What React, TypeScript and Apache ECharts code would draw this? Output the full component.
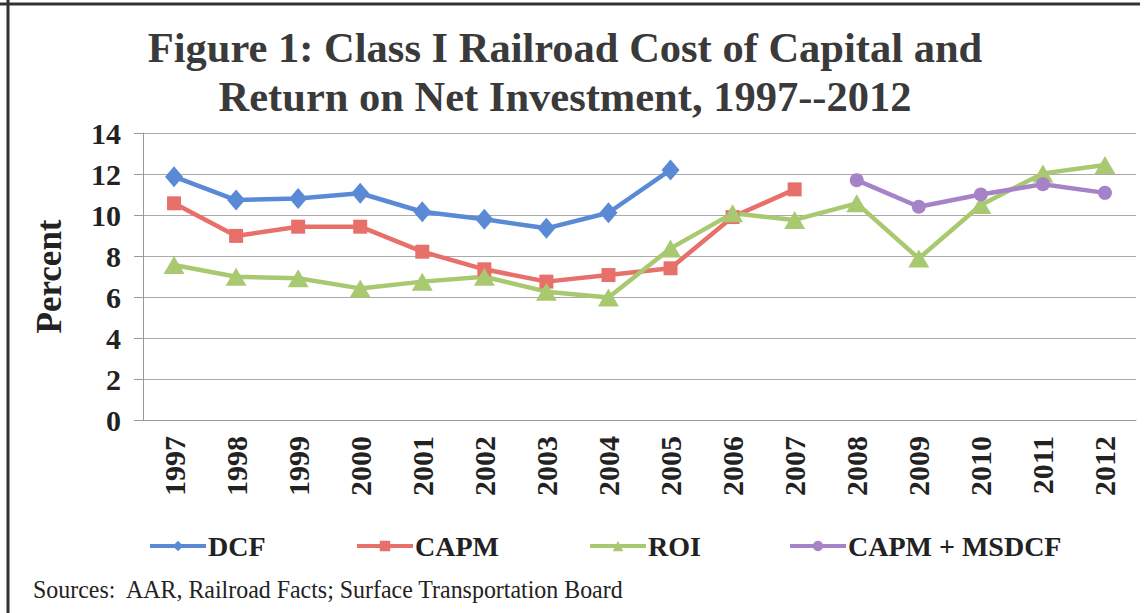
import React, { useEffect, useRef } from "react";
import * as echarts from "echarts";

const years = ["1997","1998","1999","2000","2001","2002","2003","2004","2005","2006","2007","2008","2009","2010","2011","2012"];
const dcf = [11.87, 10.73, 10.81, 11.06, 10.16, 9.79, 9.35, 10.11, 12.2, null, null, null, null, null, null, null];
const capm = [10.57, 8.98, 9.43, 9.43, 8.21, 7.35, 6.75, 7.07, 7.4, 9.9, 11.25, null, null, null, null, null];
const roi = [7.56, 6.99, 6.91, 6.42, 6.75, 6.99, 6.26, 5.98, 8.37, 10.08, 9.76, 10.57, 7.88, 10.49, 12.03, 12.44];
const msdcf = [null, null, null, null, null, null, null, null, null, null, null, 11.7, 10.4, 11.0, 11.5, 11.08];
const yTicks = { min: 0, max: 14, interval: 2 };
const titleLines = ["Figure 1: Class I Railroad Cost of Capital and", "Return on Net Investment, 1997--2012"];
const sourceText = "Sources:  AAR, Railroad Facts; Surface Transportation Board";

const serif = "'Liberation Serif', 'Times New Roman', serif";
const colors = { dcf: "#5a8ad6", capm: "#e8706b", roi: "#a9c971", msdcf: "#a683c9" };

export default function App() {
  const ref = useRef<HTMLDivElement>(null);
  useEffect(() => {
    if (!ref.current) return;
    const chart = echarts.init(ref.current, null, { renderer: "svg" });
    const legendBase = {
      top: 527,
      itemWidth: 56,
      itemHeight: 13,
      itemGap: 0,
      lineStyle: { width: 4 },
      textStyle: { fontFamily: serif, fontSize: 28, fontWeight: "bold", color: "#222", padding: [0, 0, 0, -3] },
    };
    const mkSeries = (name: string, data: any[], color: string, symbol: string, size: any) => ({
      name,
      type: "line",
      data,
      symbol,
      symbolSize: size,
      showAllSymbol: true,
      connectNulls: false,
      lineStyle: { color, width: 4.5 },
      itemStyle: { color },
      emphasis: { disabled: true },
    });
    chart.setOption({
      animation: false,
      backgroundColor: "#fff",
      title: {
        text: titleLines.join("\n"),
        left: 565,
        textAlign: "center",
        top: 23,
        padding: 0,
        textStyle: { fontFamily: serif, fontSize: 42.5, fontWeight: "bold", color: "#3a3a3a", lineHeight: 49 },
      },
      grid: { left: 143, right: 11, top: 133, bottom: 193 },
      legend: [
        { ...legendBase, left: 143, data: ["DCF"] },
        { ...legendBase, left: 350, data: ["CAPM"] },
        { ...legendBase, left: 583, data: ["ROI"] },
        { ...legendBase, left: 783, data: ["CAPM + MSDCF"] },
      ],
      xAxis: {
        type: "category",
        data: years,
        boundaryGap: true,
        axisLine: { lineStyle: { color: "#999", width: 1 } },
        axisTick: { show: false },
        axisLabel: { rotate: 90, margin: 16, fontFamily: serif, fontSize: 30, fontWeight: "bold", color: "#222" },
      },
      yAxis: {
        type: "value",
        min: yTicks.min,
        max: yTicks.max,
        interval: yTicks.interval,
        name: "Percent",
        nameLocation: "middle",
        nameGap: 76,
        nameTextStyle: { fontFamily: serif, fontSize: 35, fontWeight: "bold", color: "#222" },
        axisLine: { show: true, lineStyle: { color: "#999", width: 1 } },
        axisTick: { show: true, length: 9, lineStyle: { color: "#999" } },
        axisLabel: { margin: 22, fontFamily: serif, fontSize: 30, fontWeight: "bold", color: "#222" },
        splitLine: { lineStyle: { color: "#aaa", width: 1 } },
      },
      series: [
        mkSeries("DCF", dcf, colors.dcf, "diamond", [18, 21]),
        mkSeries("CAPM", capm, colors.capm, "rect", [14, 14]),
        mkSeries("ROI", roi, colors.roi, "triangle", [21, 18]),
        mkSeries("CAPM + MSDCF", msdcf, colors.msdcf, "circle", 14),
      ],
      graphic: [
        { type: "line", shape: { x1: 0, y1: 4, x2: 1140, y2: 4 }, style: { stroke: "#333", lineWidth: 3 } },
        { type: "line", shape: { x1: 8, y1: 0, x2: 8, y2: 613 }, style: { stroke: "#333", lineWidth: 3 } },
        {
          type: "text",
          x: 33,
          y: 589,
          scaleX: 0.92,
          style: { text: sourceText, fontFamily: serif, fontSize: 26, fill: "#222", textVerticalAlign: "middle" },
        },
      ],
    });
    return () => chart.dispose();
  }, []);
  return <div ref={ref} style={{ position: "fixed", left: 0, top: 0, width: 1147, height: 613 }} />;
}
